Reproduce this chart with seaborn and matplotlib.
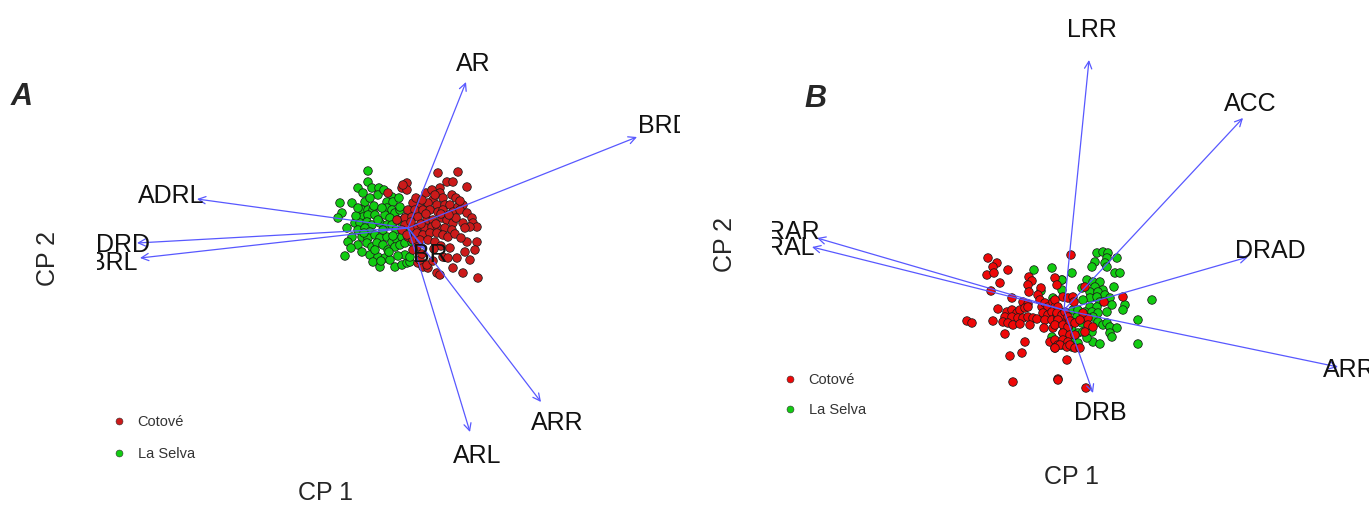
import numpy as np
import pandas as pd
import matplotlib
matplotlib.use("Agg")
import matplotlib.pyplot as plt
from matplotlib.lines import Line2D
import seaborn as sns

# ---------------------------------------------------------------- data
groups = ["Cotové", "La Selva"]

# Panel A: PCA scores (CP1, CP2) per population
cotove_a = [
    (30, 55), (50, 56), (39, 46), (45, 46), (59, 41), (-1, 45), (-6, 40), (32, 40), (32, 35),
    (18, 35), (44, 33), (35, 30), (25, 28), (20, 25), (5, 25), (12, 21), (29, 23), (37, 23),
    (42, 23), (50, 21), (55, 23), (0, 18), (7, 18), (15, 18), (22, 18), (30, 16), (35, 18),
    (45, 16), (52, 18), (59, 15), (-3, 10), (4, 11), (10, 11), (19, 8), (25, 8), (34, 10),
    (39, 8), (45, 5), (55, 5), (64, 10), (65, 5), (69, 1), (4, 1), (10, 1), (17, 0), (24, 1),
    (30, 0), (37, 0), (44, -2), (62, 1), (9, -5), (15, -7), (22, -5), (29, -5), (35, -7),
    (40, -9), (0, -9), (5, -12), (12, -12), (59, -14), (69, -14), (42, -20), (57, -24),
    (67, -22), (35, -29), (49, -30), (62, -32), (10, -35), (15, -39), (20, -40), (45, -40),
    (29, -45), (32, -47), (55, -45), (70, -50), (-1, 38), (24, 38), (-20, 35), (-5, 43),
    (-11, 8), (-3, 3), (-6, -2), (-1, -7), (12, -32), (19, -37), (9, -19), (8, 30), (14, 28),
    (27, 33), (48, 30), (52, 27), (3, 6), (13, 4), (28, 4), (33, 14), (48, 10), (57, 0),
    (20, -12), (27, -14), (33, -18), (5, -22), (14, -26), (26, -21), (40, -30), (25, -33),
    (18, 14), (41, 13), (47, -6), (53, -10),
]
laselva_a = [
    (-40, 57), (-40, 46), (-50, 40), (-36, 40), (-29, 40), (-45, 35), (-30, 33), (-16, 31),
    (-68, 25), (-56, 25), (-43, 26), (-21, 26), (-15, 26), (-66, 15), (-70, 10), (-46, 18),
    (-40, 18), (-35, 18), (-21, 20), (-16, 18), (-13, 15), (-8, 18), (-45, 11), (-40, 13),
    (-33, 13), (-23, 13), (-18, 10), (-10, 8), (-53, 5), (-48, 5), (-41, 6), (-36, 3),
    (-28, 5), (-21, 3), (-16, 3), (-61, 0), (-50, -2), (-43, 0), (-38, -4), (-56, -9),
    (-46, -9), (-40, -10), (-33, -7), (-28, -10), (-21, -9), (-16, -14), (-11, -12), (-6, -9),
    (-50, -17), (-41, -15), (-36, -19), (-31, -15), (-25, -17), (-20, -22), (-13, -19),
    (-8, -17), (-3, -15), (-63, -28), (-38, -27), (-30, -29), (-23, -30), (-35, -34),
    (-28, -39), (-18, -32), (-13, -39), (-6, -37), (-1, -35), (2, -34), (0, -5), (4, -14),
    (-3, -27), (2, -29), (-8, 21), (-3, 10), (-25, -2), (-30, 8), (-44, -5), (-12, -2),
    (-5, 3), (-52, 12), (-60, -14), (-34, 22), (-26, 20), (-19, -24), (-10, -28), (-46, -24),
    (-57, -20), (-24, 38), (-9, 30), (-33, -22), (-27, -33), (-38, 30), (-50, 20), (-15, -8),
]

# Panel B: PCA scores (CP1, CP2) per population
cotove_b = [
    (-76, 52), (-67, 47), (-71, 43), (-77, 35), (-70, 37), (-56, 40), (-64, 27), (-73, 19),
    (-35, 33), (-32, 29), (-36, 25), (-35, 18), (-23, 22), (-52, 12), (-41, 8), (-36, 6),
    (-26, 15), (-24, 10), (-22, 3), (-19, 7), (-16, 3), (-11, 8), (-9, 3), (-66, 1), (-57, -2),
    (-52, 0), (-47, -3), (-44, 0), (-39, 2), (-36, 3), (-59, -7), (-52, -7), (-46, -8),
    (-41, -8), (-36, -7), (-31, -8), (-27, -9), (-21, -3), (-16, -5), (-12, -2), (-7, -5),
    (-2, -3), (-19, -10), (-12, -10), (-6, -8), (-97, -11), (-92, -13), (-71, -11), (-61, -12),
    (-56, -13), (-51, -15), (-44, -14), (-34, -15), (-20, -18), (-11, -18), (-59, -24),
    (-39, -32), (-14, -32), (-9, -30), (-6, -35), (-9, -38), (-54, -46), (-42, -43),
    (-51, -72), (-6, -69), (-1, -10), (7, 55), (-9, 32), (-7, 25), (-1, 13), (4, 12), (9, 13),
    (10, 8), (-9, 10), (-6, 3), (-7, -3), (-2, -5), (1, -2), (4, -7), (-6, -10), (-9, -15),
    (-1, -15), (4, -17), (6, -11), (11, -13), (21, -8), (24, -8), (19, -3), (21, 23), (16, -10),
    (24, -15), (29, -17), (-1, -23), (6, -25), (11, -25), (21, -22), (-1, -30), (4, -32),
    (-4, -35), (3, -37), (6, -35), (11, -38), (16, -38), (-9, -38), (3, -50), (-6, -70),
    (22, -78), (40, 8), (59, 13),
]
laselva_b = [
    (33, 57), (39, 58), (44, 57), (43, 52), (41, 47), (31, 48), (28, 43), (53, 52), (43, 43),
    (51, 37), (56, 37), (8, 37), (-2, 30), (23, 30), (29, 28), (36, 28), (31, 23), (39, 20),
    (18, 22), (26, 18), (34, 18), (41, 15), (46, 12), (50, 23), (26, 12), (33, 13), (19, 10),
    (36, 8), (48, 5), (26, 3), (33, 3), (61, 5), (59, 0), (9, 0), (14, 0), (21, -2), (28, -2),
    (34, -3), (43, -2), (88, 10), (74, -10), (13, -7), (8, -12), (18, -13), (29, -7), (34, -12),
    (39, -15), (43, -13), (46, -17), (53, -18), (1, -18), (8, -20), (14, -23), (19, -22),
    (28, -22), (46, -23), (48, -27), (1, -28), (9, -30), (14, -33), (8, -37), (29, -32),
    (36, -34), (74, -34), (-2, -35), (4, -18), (23, -28), (-2, 20), (-30, 40), (-12, 42),
    (-23, 19), (-11, 12), (-2, 30), (-19, -5), (-12, -27), (-1, -23), (-2, -33),
]

# Variable loadings (arrow tips)
vars_a = ["AR", "BRD", "ADRL", "DRD", "BRL", "BR", "ARL", "ARR"]
loads_a = [(58, 146), (229, 91), (-211, 29), (-271, -15), (-268, -30), (18, -22), (62, -204), (133, -174)]
vars_b = ["LRR", "ACC", "DRAD", "ARR", "DRB", "RAR", "RAL"]
loads_b = [(25, 250), (179, 192), (184, 53), (274, -57), (29, -83), (-247, 72), (-252, 63)]

# ---------------------------------------------------------------- style
sns.set_theme(style="white")
plt.rcParams["font.family"] = ["Liberation Sans", "DejaVu Sans"]

W, H = 1369, 508
fig = plt.figure(figsize=(W / 100, H / 100), dpi=100)

GREEN = "#12cc12"
RED_A = "#cc1a1a"
RED_B = "#ee0808"
ARROW = "#5858ff"
LABEL_GAP = 1.12

# small nudges for labels that sit away from the default spot
nudge_a = {"DRD": (19, 0), "BRL": (5, -1), "BR": (2, -2)}
nudge_b = {"ACC": (-14, -9), "ARR": (-22, 4), "DRB": (4, -10), "RAL": (8, -9), "RAR": (6, -3)}


def px_axes(left, top, right, bottom):
    return fig.add_axes([left / W, 1 - bottom / H, (right - left) / W, (bottom - top) / H])


def frame(cot, sel):
    a = pd.DataFrame(sel, columns=["CP1", "CP2"]).assign(pop="La Selva")
    b = pd.DataFrame(cot, columns=["CP1", "CP2"]).assign(pop="Cotové")
    return pd.concat([a, b], ignore_index=True)


def biplot(ax, df, red, names, loads, nudge, xlim, ylim):
    sns.scatterplot(data=df, x="CP1", y="CP2", hue="pop",
                    palette={"Cotové": red, "La Selva": GREEN},
                    s=38, edgecolor="#1a1a1a", linewidth=0.55, legend=False, ax=ax, zorder=2)
    for name, (lx, ly) in zip(names, loads):
        ax.annotate("", xy=(lx, ly), xytext=(0, 0), annotation_clip=False,
                    arrowprops=dict(arrowstyle="->", color=ARROW, lw=0.9,
                                    shrinkA=0, shrinkB=0, mutation_scale=13), zorder=3)
        dx, dy = nudge.get(name, (0, 0))
        ax.text(lx * LABEL_GAP + dx, ly * LABEL_GAP + dy, name, ha="center", va="center",
                fontsize=18, color="#111111", clip_on=True, zorder=4)
    ax.set_xlim(*xlim)
    ax.set_ylim(*ylim)
    ax.set_aspect("auto")
    ax.axis("off")


def add_legend(ax, red, x, y, spacing):
    handles = [Line2D([], [], ls="none", marker="o", ms=5, mfc=c, mec="#333333", mew=0.4)
               for c in (red, GREEN)]
    ax.legend(handles, groups, loc="upper left", bbox_to_anchor=(x / W, 1 - y / H),
              bbox_transform=fig.transFigure, frameon=False, fontsize=10.5,
              labelspacing=spacing, handletextpad=0.8, handlelength=1.0, borderpad=0,
              labelcolor="#333333")


# ---------------------------------------------------------------- panel A
ax_a = px_axes(97, 40, 680, 470)
biplot(ax_a, frame(cotove_a, laselva_a), RED_A, vars_a, loads_a, nudge_a,
       (97 - 408, 680 - 408), (228 - 470, 228 - 40))
add_legend(ax_a, RED_A, 104, 408, 1.2)
fig.text(22 / W, 1 - 97 / H, "A", fontsize=22, fontweight="bold", fontstyle="italic",
         ha="center", va="center")
fig.text(325 / W, 1 - 493 / H, "CP 1", fontsize=18, ha="center", va="center")
fig.text(48 / W, 1 - 258 / H, "CP 2", fontsize=18, rotation=90, ha="center", va="center")

# ---------------------------------------------------------------- panel B
ax_b = px_axes(772, 0, 1369, 440)
biplot(ax_b, frame(cotove_b, laselva_b), RED_B, vars_b, loads_b, nudge_b,
       (772 - 1064, 1369 - 1064), (310 - 440, 310 - 0))
add_legend(ax_b, RED_B, 775, 366, 1.05)
fig.text(815 / W, 1 - 99 / H, "B", fontsize=22, fontweight="bold", fontstyle="italic",
         ha="center", va="center")
fig.text(1072 / W, 1 - 477 / H, "CP 1", fontsize=18, ha="center", va="center")
fig.text(725 / W, 1 - 245 / H, "CP 2", fontsize=18, rotation=90, ha="center", va="center")

fig.savefig("out.png", dpi=100, facecolor="white")
